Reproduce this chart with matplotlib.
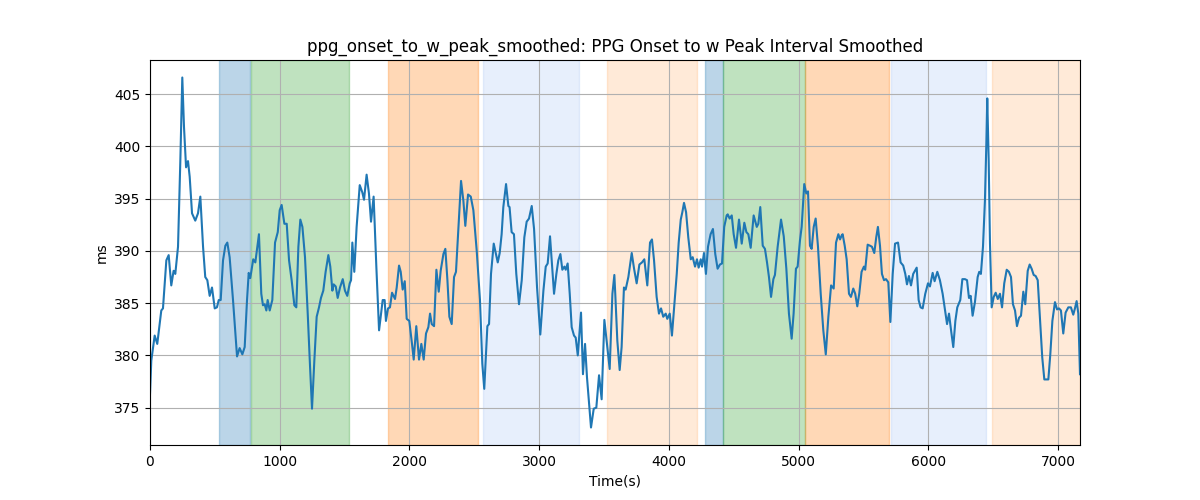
import numpy as np
import matplotlib
matplotlib.use("Agg")
import matplotlib.pyplot as plt

# signal (time in s, value in ms)
t = [0, 10, 36, 56, 87, 100, 126, 144, 164, 182, 195, 216, 234, 249, 262, 278, 293, 306, 324, 349,
     370, 388, 409, 426, 442, 460, 478, 499, 516, 530, 545, 563, 581, 596, 614, 640, 671, 691, 712, 730,
     748, 761, 773, 796, 812, 840, 858, 871, 884, 897,
     907, 923, 943, 964, 985, 1000, 1015, 1036, 1054, 1072, 1092, 1113, 1128, 1144, 1159, 1175, 1195, 1216, 1234, 1249,
     1267, 1285, 1303, 1318, 1336, 1354, 1375, 1390, 1406, 1416, 1432, 1447, 1465, 1486, 1503, 1521, 1540, 1550, 1560, 1575,
     1593, 1617, 1637, 1650, 1670, 1688, 1704, 1724, 1745, 1766,
     1794, 1809, 1819, 1835, 1850, 1866, 1889, 1902, 1920, 1933, 1948, 1964, 1979, 1999, 2020, 2033, 2053, 2074, 2092, 2110,
     2128, 2146, 2159, 2172, 2190, 2208, 2226, 2241, 2262, 2277, 2293, 2308, 2326, 2344, 2359, 2377, 2398, 2416, 2431, 2452,
     2473, 2493, 2519, 2544, 2562, 2577, 2590, 2601, 2614, 2629, 2650,
     2681, 2696, 2711, 2724, 2745, 2763, 2772, 2788, 2806, 2824, 2845, 2866, 2886, 2904, 2922, 2943, 2961, 2984, 3009, 3033,
     3051, 3066, 3084, 3097, 3115, 3133, 3148, 3164, 3179, 3195, 3205, 3220, 3236, 3251, 3269, 3282, 3298, 3323, 3338, 3354,
     3369, 3385, 3400, 3421, 3441, 3462, 3482, 3503, 3523, 3544, 3565, 3580,
     3587, 3603, 3621, 3636, 3654, 3667, 3688, 3714, 3732, 3752, 3773, 3793, 3811, 3834, 3855, 3870, 3886, 3906, 3924, 3940,
     3957, 3976, 3988, 4007, 4024, 4045, 4061, 4076, 4092, 4104, 4117, 4133, 4150, 4169, 4184, 4202, 4217, 4230, 4246, 4256,
     4271, 4286, 4302, 4322, 4340, 4358, 4376, 4394, 4410, 4427, 4446,
     4454, 4469, 4485, 4500, 4518, 4541, 4562, 4582, 4598, 4613, 4631, 4654, 4678, 4690, 4705, 4724, 4741, 4757, 4772, 4788,
     4806, 4818, 4839, 4865, 4886, 4906, 4926, 4947, 4962, 4980, 4993, 5011, 5024, 5044, 5060, 5073, 5088, 5101, 5117, 5132,
     5150, 5171, 5191, 5210, 5230, 5251, 5271, 5289, 5307, 5320, 5333,
     5340, 5356, 5371, 5389, 5404, 5422, 5437, 5453, 5468, 5486, 5504, 5514, 5533, 5551, 5566, 5584, 5599, 5612, 5628, 5643,
     5659, 5674, 5692, 5708, 5726, 5744, 5767, 5787, 5807, 5823, 5836, 5851, 5867, 5884, 5911, 5926, 5941, 5957, 5977, 5998,
     6013, 6034, 6049, 6070, 6090, 6111, 6126, 6145, 6160, 6178, 6193, 6209, 6224,
     6247, 6263, 6283, 6299, 6314, 6327, 6342, 6360, 6381, 6393, 6406, 6422, 6437, 6448, 6455, 6466, 6476, 6489, 6505, 6520,
     6536, 6553, 6569, 6586, 6605, 6622, 6638, 6653, 6669, 6684, 6700, 6715, 6733, 6748, 6767, 6782, 6797, 6813, 6828, 6844,
     6862, 6879, 6895, 6913, 6926, 6941, 6957, 6977, 6993, 7008, 7023, 7041, 7059, 7080, 7100, 7118, 7131, 7144, 7157, 7170]

ms = [376.3, 379.5, 381.9, 381.1, 384.3, 384.5, 389.1, 389.6, 386.7, 388.1, 387.8, 390.4, 398.7, 406.6, 401.9, 398.0, 398.6, 397.1, 393.6, 392.9,
      393.6, 395.2, 390.4, 387.5, 387.2, 385.7, 386.5, 384.5, 384.6, 385.3, 385.3, 389.1, 390.5, 390.8, 389.4, 385.3, 379.9, 380.7, 380.1, 380.8,
      385.3, 387.9, 387.4, 389.2, 388.9, 391.6, 385.9, 384.8, 384.9, 384.3,
      385.3, 384.3, 385.3, 390.8, 391.8, 393.9, 394.4, 392.6, 392.6, 389.1, 387.2, 384.8, 384.6, 390.4, 393.0, 392.3, 389.4, 384.0, 378.9, 374.9,
      379.5, 383.7, 384.6, 385.5, 386.2, 388.0, 389.6, 388.5, 386.2, 386.8, 386.6, 385.5, 386.5, 387.3, 386.2, 385.7, 386.9, 387.2, 390.8, 388.0,
      392.3, 396.3, 395.6, 394.9, 397.3, 395.5, 392.8, 395.2, 388.5, 382.4,
      385.3, 385.3, 383.3, 384.5, 384.6, 386.0, 385.4, 386.5, 388.6, 388.0, 386.3, 387.1, 383.5, 383.3, 381.1, 379.6, 382.8, 379.6, 381.1, 379.6,
      382.1, 382.7, 384.0, 383.0, 382.8, 388.2, 386.1, 388.1, 389.7, 390.2, 387.2, 383.7, 383.0, 387.5, 388.0, 392.0, 396.7, 394.8, 392.4, 395.4,
      395.2, 393.9, 390.0, 385.3, 379.2, 376.8, 380.1, 382.8, 383.0, 387.8, 390.7,
      388.9, 389.8, 391.6, 394.2, 396.4, 394.3, 394.2, 391.8, 391.6, 387.8, 384.9, 387.2, 391.3, 392.8, 393.1, 394.3, 392.1, 386.5, 382.0, 386.2,
      388.5, 388.8, 391.4, 389.1, 385.9, 387.8, 389.1, 389.7, 388.2, 388.5, 388.2, 388.8, 385.9, 382.7, 381.9, 381.7, 380.0, 384.1, 378.2, 381.1,
      377.9, 375.4, 373.1, 374.9, 375.0, 378.1, 375.8, 383.4, 381.1, 378.7, 385.9, 387.7,
      385.9, 381.4, 378.6, 380.8, 386.5, 386.3, 387.5, 389.8, 388.3, 386.9, 388.7, 388.9, 389.2, 386.7, 390.8, 391.1, 389.1, 385.6, 384.0, 384.5,
      383.7, 384.0, 383.5, 384.0, 381.9, 385.3, 387.8, 390.8, 393.0, 393.7, 394.6, 393.7, 391.3, 389.2, 389.4, 388.5, 389.2, 388.4, 389.2, 388.5,
      389.8, 387.8, 390.4, 391.6, 392.1, 389.7, 388.3, 388.7, 388.8, 392.3, 393.4,
      393.5, 393.1, 393.4, 391.6, 390.3, 393.0, 390.7, 392.7, 391.8, 391.6, 390.3, 393.4, 392.3, 392.6, 394.2, 390.5, 390.2, 388.9, 387.5, 385.6,
      387.3, 387.7, 390.4, 393.0, 391.4, 388.3, 384.0, 381.6, 384.0, 388.3, 388.5, 391.0, 392.3, 396.4, 395.5, 395.7, 390.5, 390.2, 392.3, 393.1,
      390.4, 385.9, 382.4, 380.1, 383.7, 386.7, 386.4, 390.8, 391.6, 391.1, 391.5,
      391.6, 390.5, 389.2, 385.9, 385.6, 386.4, 385.9, 384.7, 385.9, 388.0, 388.5, 388.2, 390.6, 390.5, 390.4, 389.8, 391.3, 392.3, 390.5, 387.8,
      387.2, 387.3, 387.0, 383.2, 387.8, 390.7, 390.8, 388.9, 388.6, 387.8, 386.8, 387.6, 386.7, 387.8, 388.4, 385.3, 384.6, 384.5, 385.9, 386.9,
      386.6, 387.9, 387.1, 388.0, 387.2, 385.9, 384.6, 383.0, 384.0, 382.2, 380.8, 383.3, 384.6,
      385.3, 387.3, 387.3, 387.2, 385.5, 385.7, 383.8, 385.1, 387.5, 388.0, 387.8, 390.4, 394.8, 400.3, 404.6, 398.7, 390.7, 384.6, 385.6, 386.0,
      385.4, 385.9, 384.6, 386.9, 388.2, 388.0, 387.5, 384.9, 384.3, 382.8, 383.6, 383.8, 386.1, 384.9, 388.1, 388.7, 388.3, 387.7, 387.6, 387.2,
      383.3, 379.8, 377.7, 377.7, 377.7, 380.1, 383.3, 385.1, 384.4, 384.5, 384.3, 382.1, 384.1, 384.6, 384.6, 383.9, 384.5, 385.2, 384.0, 378.2]

# shaded phases (start, end)
blue_spans = [(532, 768), (4280, 4420)]
green_spans = [(779, 1532), (4420, 5050)]
orange_spans = [(1835, 2526), (5053, 5700)]
lightblue_spans = [(2567, 3305), (5711, 6443)]
lightorange_spans = [(3523, 4217), (6489, 7170)]

fig, ax = plt.subplots(figsize=(12, 5), dpi=100)

for a, b in blue_spans:
    ax.axvspan(a, b, color='C0', alpha=0.3)
for a, b in green_spans:
    ax.axvspan(a, b, color='C2', alpha=0.3)
for a, b in orange_spans:
    ax.axvspan(a, b, color='C1', alpha=0.3)
for a, b in lightblue_spans:
    ax.axvspan(a, b, color='cornflowerblue', alpha=0.15)
for a, b in lightorange_spans:
    ax.axvspan(a, b, color='C1', alpha=0.16)

ax.plot(t, ms, color='C0')
ax.set_xlim(t[0], t[-1])
ax.grid(True)
ax.set_title("ppg_onset_to_w_peak_smoothed: PPG Onset to w Peak Interval Smoothed")
ax.set_xlabel("Time(s)")
ax.set_ylabel("ms")

fig.savefig("out.png")
